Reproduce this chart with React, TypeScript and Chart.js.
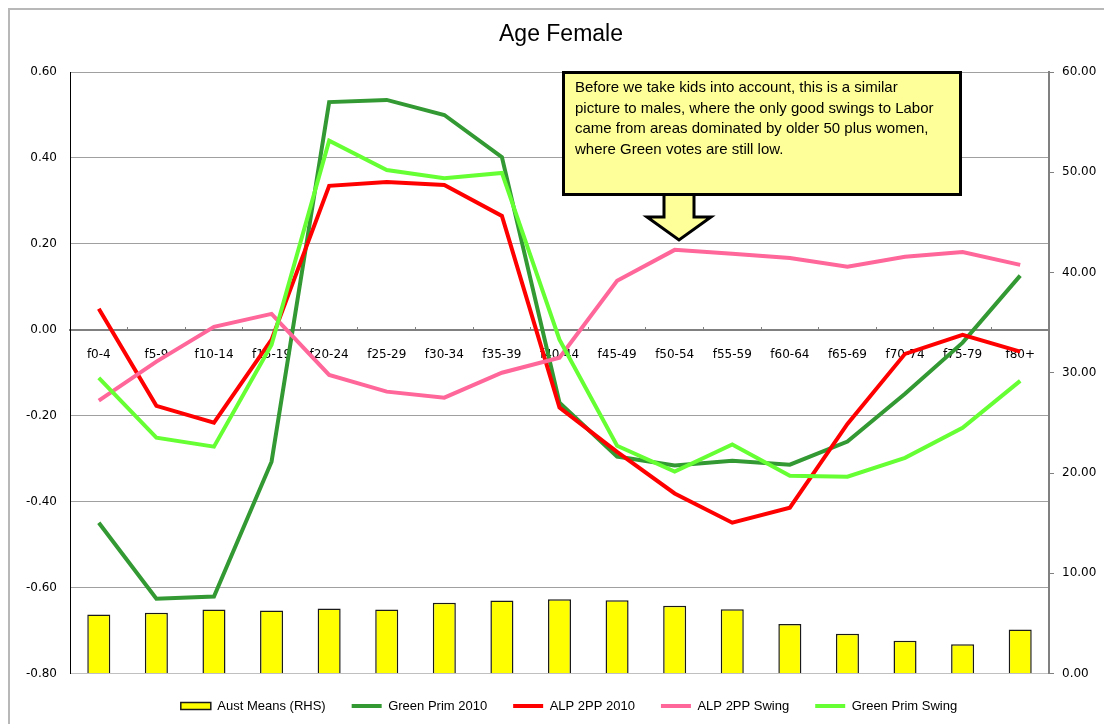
import React, { useEffect, useRef } from "react";
import { Chart, registerables } from "chart.js";

Chart.register(...registerables);

const categories = [
  "f0-4", "f5-9", "f10-14", "f15-19", "f20-24", "f25-29", "f30-34", "f35-39", "f40-44",
  "f45-49", "f50-54", "f55-59", "f60-64", "f65-69", "f70-74", "f75-79", "f80+",
];

const austMeans = [5.88, 6.05, 6.38, 6.28, 6.48, 6.38, 7.05, 7.28, 7.41, 7.31, 6.75, 6.41, 4.95, 3.96, 3.26, 2.92, 4.39];
const greenPrim2010 = [-0.449, -0.626, -0.621, -0.307, 0.53, 0.535, 0.5, 0.402, -0.17, -0.295, -0.316, -0.305, -0.314, -0.26, -0.149, -0.03, 0.126];
const alp2pp2010 = [0.049, -0.177, -0.216, -0.023, 0.335, 0.344, 0.337, 0.265, -0.181, -0.284, -0.381, -0.449, -0.414, -0.219, -0.056, -0.012, -0.051];
const alp2ppSwing = [-0.165, -0.074, 0.007, 0.037, -0.105, -0.144, -0.158, -0.1, -0.065, 0.114, 0.186, 0.177, 0.167, 0.147, 0.17, 0.181, 0.151];
const greenPrimSwing = [-0.112, -0.251, -0.272, -0.035, 0.44, 0.372, 0.353, 0.365, -0.023, -0.27, -0.33, -0.267, -0.34, -0.342, -0.298, -0.228, -0.119];

const leftTicks = { min: -0.8, max: 0.6, step: 0.2 };
const rightTicks = { min: 0, max: 60, step: 10 };

const titleText = "Age Female";
const noteLines = [
  "Before we take kids into account, this is a similar",
  "picture to males, where the only good swings to Labor",
  "came from areas dominated by older 50 plus women,",
  "where Green votes are still low.",
];

const SANS = '"Liberation Sans", Arial, sans-serif';
const DEJA = '"DejaVu Sans", Verdana, sans-serif';

const fmt2 = (v: number) => {
  const n = Math.abs(v) < 1e-9 ? 0 : v;
  return Number(n).toFixed(2);
};

const decorPlugin = {
  id: "decor",
  afterLayout(chart: any) {
    const lg = chart.legend;
    if (lg) {
      lg.left += 12;
      lg.right += 12;
    }
  },
  afterDraw(chart: any) {
    const ctx = chart.ctx as CanvasRenderingContext2D;
    const a = chart.chartArea;
    ctx.save();
    // title
    ctx.fillStyle = "#000";
    ctx.font = `23px ${SANS}`;
    ctx.textAlign = "center";
    ctx.textBaseline = "alphabetic";
    ctx.fillText(titleText, (a.left + a.right) / 2 + 1.5, 31.3);

    // annotation box + arrow
    const bx = a.left + 493.5;
    const by = a.top + 0.5;
    const bw = 397;
    const bh = 122;
    const fill = "#ffff99";
    ctx.lineWidth = 3;
    ctx.strokeStyle = "#000";
    ctx.lineJoin = "miter";
    // arrow
    const cx = bx + 115.5;
    const sy = by + bh;
    ctx.beginPath();
    ctx.moveTo(cx - 15, sy);
    ctx.lineTo(cx - 15, sy + 22.5);
    ctx.lineTo(cx - 32, sy + 22.5);
    ctx.lineTo(cx, sy + 45.5);
    ctx.lineTo(cx + 32, sy + 22.5);
    ctx.lineTo(cx + 15, sy + 22.5);
    ctx.lineTo(cx + 15, sy);
    ctx.closePath();
    ctx.fillStyle = fill;
    ctx.fill();
    ctx.stroke();
    // box
    ctx.beginPath();
    ctx.rect(bx, by, bw, bh);
    ctx.fillStyle = fill;
    ctx.fill();
    ctx.stroke();
    // text
    ctx.fillStyle = "#000";
    ctx.font = `15px ${SANS}`;
    ctx.textAlign = "left";
    ctx.textBaseline = "alphabetic";
    noteLines.forEach((line, i) => {
      ctx.fillText(line, bx + 11.5, by + 19.8 + i * 20.5);
    });
    ctx.restore();
  },
};

export default function App() {
  const canvasRef = useRef<HTMLCanvasElement | null>(null);

  useEffect(() => {
    document.documentElement.style.overflow = "hidden";
    document.body.style.overflow = "hidden";
    const canvas = canvasRef.current;
    if (!canvas) return;
    const chart = new Chart(canvas, {
      type: "bar",
      data: {
        labels: categories,
        datasets: [
          {
            type: "bar",
            label: "Aust Means (RHS)",
            data: austMeans,
            yAxisID: "y1",
            backgroundColor: "#ffff00",
            borderColor: "#1a1a1a",
            borderWidth: 1.5,
            barPercentage: 0.4,
            categoryPercentage: 1.0,
            order: 5,
          },
          {
            type: "line",
            label: "Green Prim 2010",
            data: greenPrim2010,
            yAxisID: "y",
            borderColor: "#339933",
            backgroundColor: "#339933",
            borderWidth: 4,
            pointRadius: 0,
            tension: 0,
            fill: false,
            order: 4,
          },
          {
            type: "line",
            label: "ALP 2PP 2010",
            data: alp2pp2010,
            yAxisID: "y",
            borderColor: "#ff0000",
            backgroundColor: "#ff0000",
            borderWidth: 4,
            pointRadius: 0,
            tension: 0,
            fill: false,
            order: 3,
          },
          {
            type: "line",
            label: "ALP 2PP Swing",
            data: alp2ppSwing,
            yAxisID: "y",
            borderColor: "#ff6699",
            backgroundColor: "#ff6699",
            borderWidth: 4,
            pointRadius: 0,
            tension: 0,
            fill: false,
            order: 2,
          },
          {
            type: "line",
            label: "Green Prim Swing",
            data: greenPrimSwing,
            yAxisID: "y",
            borderColor: "#66ff33",
            backgroundColor: "#66ff33",
            borderWidth: 4,
            pointRadius: 0,
            tension: 0,
            fill: false,
            order: 1,
          },
        ] as any,
      },
      options: {
        responsive: false,
        animation: false,
        layout: { padding: { top: 62, left: 0, right: 0, bottom: 17.5 } },
        plugins: {
          title: { display: false },
          tooltip: { enabled: false },
          legend: {
            position: "bottom",
            labels: {
              usePointStyle: true,
              pointStyleWidth: 30,
              boxHeight: 7,
              padding: 26,
              color: "#000",
              font: { family: SANS, size: 13 },
              generateLabels: (ch: any) => {
                const items = (Chart.defaults.plugins.legend.labels as any).generateLabels(ch);
                items.sort((p: any, q: any) => p.datasetIndex - q.datasetIndex);
                items.forEach((it: any) => {
                  const ds: any = ch.data.datasets[it.datasetIndex];
                  if (ds.type === "bar") {
                    it.pointStyle = "rect";
                    it.fillStyle = ds.backgroundColor;
                    it.strokeStyle = "#1a1a1a";
                    it.lineWidth = 1.5;
                  } else {
                    it.pointStyle = "line";
                    it.strokeStyle = ds.borderColor;
                    it.fillStyle = ds.borderColor;
                    it.lineWidth = 4;
                  }
                });
                return items;
              },
            },
          },
        },
        scales: {
          x: {
            type: "category",
            position: { y: 0 } as any,
            offset: true,
            grid: {
              display: true,
              drawOnChartArea: false,
              drawTicks: true,
              tickLength: -4,
              color: "#808080",
              lineWidth: 1,
              offset: true,
            },
            border: { display: true, color: "#808080", width: 2 },
            ticks: {
              font: { family: DEJA, size: 12 },
              color: "#000",
              maxRotation: 0,
              autoSkip: false,
              padding: 22,
            },
          },
          y: {
            position: "left",
            min: leftTicks.min,
            max: leftTicks.max,
            afterFit: (s: any) => {
              s.width = 60;
            },
            ticks: {
              stepSize: leftTicks.step,
              callback: (v: any) => fmt2(Number(v)),
              font: { family: DEJA, size: 12 },
              color: "#000",
              padding: 13,
            },
            grid: {
              color: (c: any) => (c.tick && c.tick.value <= -0.79 ? "#c0c0c0" : "#a0a0a0"),
              drawTicks: false,
              lineWidth: 1,
            },
            border: { display: true, color: "#000", width: 1 },
          },
          y1: {
            position: "right",
            min: rightTicks.min,
            max: rightTicks.max,
            afterFit: (s: any) => {
              s.width = 55;
            },
            ticks: {
              stepSize: rightTicks.step,
              callback: (v: any) => fmt2(Number(v)),
              font: { family: DEJA, size: 12 },
              color: "#000",
              padding: 8,
            },
            grid: {
              drawOnChartArea: false,
              drawTicks: true,
              tickLength: 5,
              color: "#808080",
            },
            border: { display: true, color: "#808080", width: 2 },
          },
        } as any,
      },
      plugins: [decorPlugin as any],
    });
    return () => chart.destroy();
  }, []);

  return (
    <div
      style={{
        width: 1094,
        height: 730,
        borderLeft: "2px solid #b8b8b8",
        borderTop: "2px solid #b8b8b8",
        background: "#fff",
      }}
    >
      <canvas ref={canvasRef} width={1094} height={730} style={{ display: "block" }} />
    </div>
  );
}
